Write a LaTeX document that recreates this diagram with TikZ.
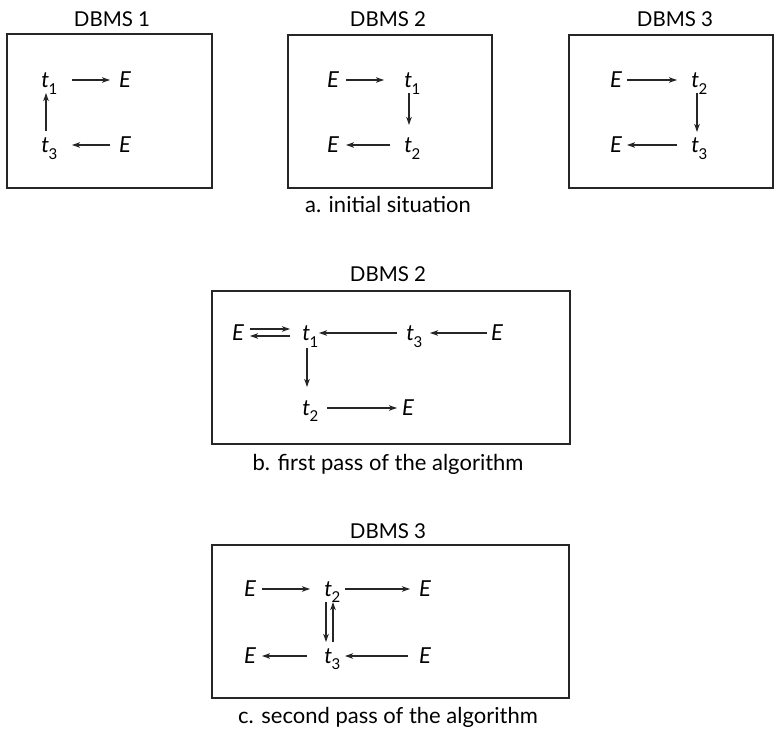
\documentclass[tikz,border=0pt]{standalone}
\usepackage{fontspec}
\setmainfont{Lato}
\usetikzlibrary{arrows.meta}
\newcommand\Tsub[1]{\textit{t}\kern-0.5pt\rlap{\raisebox{-0.28em}{\fontsize{15}{15}\selectfont #1}}}
\tikzset{
  box/.style={draw=black!85, line width=1.1pt},
  lbl/.style={inner sep=0pt, anchor=base, text=black, font=\fontsize{22}{24}\selectfont},
  ttl/.style={inner sep=0pt, anchor=base, text=black, font=\fontsize{20.5}{22}\selectfont},
  captxt/.style={inner sep=0pt, anchor=base, text=black, font=\fontsize{22}{24}\selectfont},
  arr/.style={-{Stealth[length=8pt,width=5.5pt,inset=2pt]}, line width=1.1pt, draw=black!85},
}
\begin{document}
\begin{tikzpicture}[x=1pt,y=-1pt]
\useasboundingbox (0,0) rectangle (774,735);
% ---------- a ----------
\draw[box] (7,34) rectangle (212,188);
\draw[box] (288,35) rectangle (492,188);
\draw[box] (569,35) rectangle (773,188);
\node[ttl] (T1) at (112,27) {DBMS 1};
\node[ttl] (T2) at (388,27) {DBMS 2};
\node[ttl] (T3) at (675,27) {DBMS 3};
\node[captxt] (Ca) at (388,213) {a. initial situation};
% box 1
\node[lbl] (A1t1) at (45,88) {\Tsub{1}};
\node[lbl] (A1e1) at (125,88) {\textit{E}};
\node[lbl] (A1t3) at (45,153) {\Tsub{3}};
\node[lbl] (A1e3) at (125,153) {\textit{E}};
\draw[arr] ([xshift=27pt,yshift=8pt]A1t1.base) -- ([xshift=-15pt,yshift=8pt]A1e1.base);
\draw[arr] ([xshift=-15pt,yshift=8pt]A1e3.base) -- ([xshift=27pt,yshift=8pt]A1t3.base);
\draw[arr] ([xshift=1pt,yshift=22pt]A1t3.base) -- ([xshift=1pt,yshift=-5pt]A1t1.base);
% box 2
\node[lbl] (A2e1) at (333,88) {\textit{E}};
\node[lbl] (A2t1) at (408,88) {\Tsub{1}};
\node[lbl] (A2e2) at (333,153) {\textit{E}};
\node[lbl] (A2t2) at (408,153) {\Tsub{2}};
\draw[arr] ([xshift=13pt,yshift=8pt]A2e1.base) -- ([xshift=-24pt,yshift=8pt]A2t1.base);
\draw[arr] ([xshift=1pt,yshift=-5pt]A2t1.base) -- ([xshift=1pt,yshift=28pt]A2t2.base);
\draw[arr] ([xshift=-18pt,yshift=8pt]A2t2.base) -- ([xshift=13pt,yshift=8pt]A2e2.base);
% box 3
\node[lbl] (A3e1) at (616,88) {\textit{E}};
\node[lbl] (A3t2) at (695,88) {\Tsub{2}};
\node[lbl] (A3e2) at (616,153) {\textit{E}};
\node[lbl] (A3t3) at (695,153) {\Tsub{3}};
\draw[arr] ([xshift=11pt,yshift=8pt]A3e1.base) -- ([xshift=-18pt,yshift=8pt]A3t2.base);
\draw[arr] ([xshift=2pt,yshift=-5pt]A3t2.base) -- ([xshift=2pt,yshift=21pt]A3t3.base);
\draw[arr] ([xshift=-18pt,yshift=8pt]A3t3.base) -- ([xshift=11pt,yshift=8pt]A3e2.base);
% ---------- b ----------
\draw[box] (212,291) rectangle (570,444);
\node[ttl] (Tb) at (388,282) {DBMS 2};
\node[captxt] (Cb) at (388,470) {b. first pass of the algorithm};
\node[lbl] (Be1) at (238,341) {\textit{E}};
\node[lbl] (Bt1) at (306,341) {\Tsub{1}};
\node[lbl] (Bt3) at (410,341) {\Tsub{3}};
\node[lbl] (Be4) at (497,341) {\textit{E}};
\node[lbl] (Bt2) at (306,415) {\Tsub{2}};
\node[lbl] (Be5) at (408,415) {\textit{E}};
\draw[arr] ([xshift=12pt,yshift=12pt]Be1.base) -- ([xshift=-16pt,yshift=12pt]Bt1.base);
\draw[arr] ([xshift=-16pt,yshift=5pt]Bt1.base) -- ([xshift=12pt,yshift=5pt]Be1.base);
\draw[arr] ([xshift=-13pt,yshift=8pt]Bt3.base) -- ([xshift=13pt,yshift=8pt]Bt1.base);
\draw[arr] ([xshift=-10pt,yshift=8pt]Be4.base) -- ([xshift=20pt,yshift=8pt]Bt3.base);
\draw[arr] ([xshift=1pt,yshift=-7pt]Bt1.base) -- ([xshift=1pt,yshift=28pt]Bt2.base);
\draw[arr] ([xshift=21pt,yshift=7pt]Bt2.base) -- ([xshift=-11pt,yshift=7pt]Be5.base);
% ---------- c ----------
\draw[box] (212,545) rectangle (569,698);
\node[ttl] (Tc) at (388,538) {DBMS 3};
\node[captxt] (Cc) at (388,723) {c. second pass of the algorithm};
\node[lbl] (Ce1) at (250,596) {\textit{E}};
\node[lbl] (Ct2) at (328,596) {\Tsub{2}};
\node[lbl] (Ce3) at (425,596) {\textit{E}};
\node[lbl] (Ce4) at (250,663) {\textit{E}};
\node[lbl] (Ct3) at (328,663) {\Tsub{3}};
\node[lbl] (Ce6) at (425,663) {\textit{E}};
\draw[arr] ([xshift=12pt,yshift=7pt]Ce1.base) -- ([xshift=-18pt,yshift=7pt]Ct2.base);
\draw[arr] ([xshift=17pt,yshift=7pt]Ct2.base) -- ([xshift=-15pt,yshift=7pt]Ce3.base);
\draw[arr] ([xshift=-2pt,yshift=-6pt]Ct2.base) -- ([xshift=-2pt,yshift=21pt]Ct3.base);
\draw[arr] ([xshift=5pt,yshift=21pt]Ct3.base) -- ([xshift=5pt,yshift=-6pt]Ct2.base);
\draw[arr] ([xshift=-21pt,yshift=7pt]Ct3.base) -- ([xshift=12pt,yshift=7pt]Ce4.base);
\draw[arr] ([xshift=-17pt,yshift=7pt]Ce6.base) -- ([xshift=17pt,yshift=7pt]Ct3.base);
\end{tikzpicture}
\end{document}
